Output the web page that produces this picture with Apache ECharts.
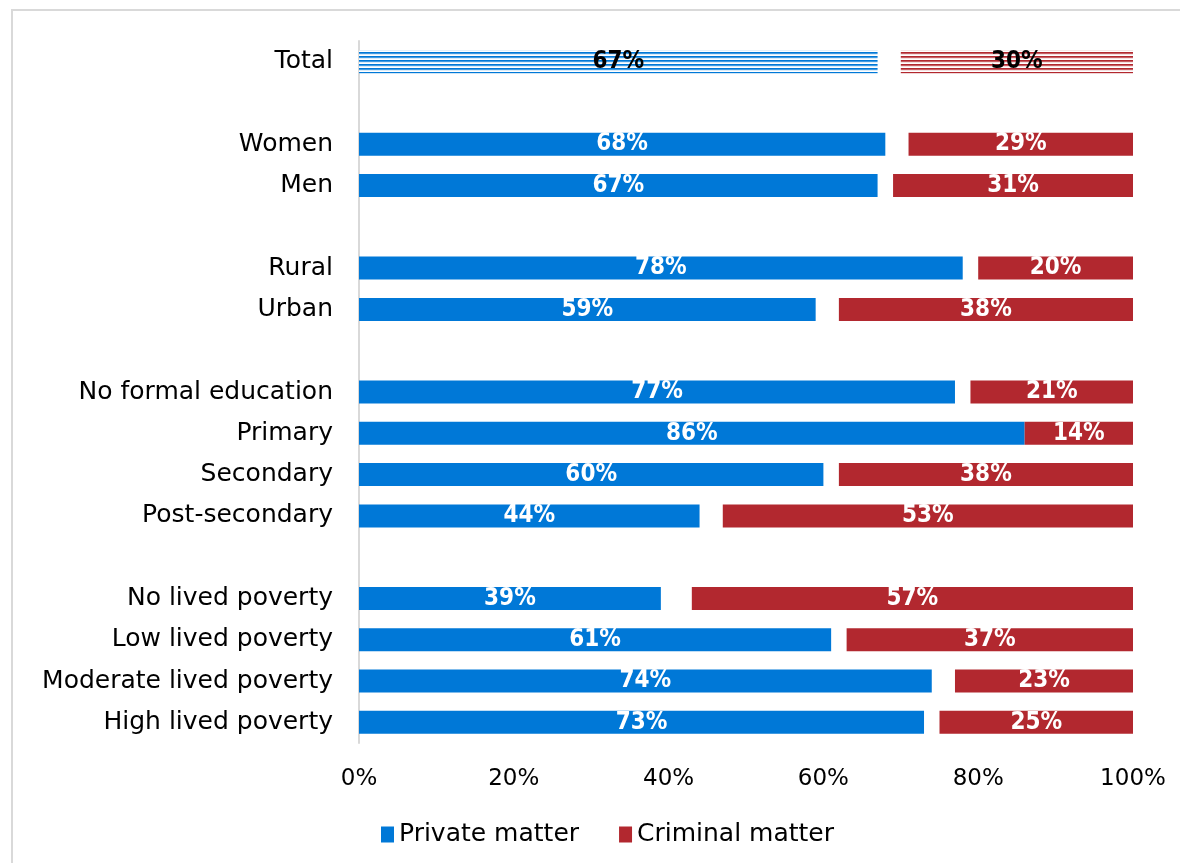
<!DOCTYPE html>
<html>
<head>
<meta charset="utf-8">
<script src="https://cdn.jsdelivr.net/npm/echarts@6/dist/echarts.min.js"></script>
<style>
  html, body { margin: 0; padding: 0; background: #fff; }
  #chart { width: 1180px; height: 863px; }
</style>
</head>
<body>
<div id="chart"></div>
<script>
// Rows top to bottom; whitespace-only entries are spacer rows between groups
const categories = [
  'Total', ' ',
  'Women', 'Men', '  ',
  'Rural', 'Urban', '   ',
  'No formal education', 'Primary', 'Secondary', 'Post-secondary', '    ',
  'No lived poverty', 'Low lived poverty', 'Moderate lived poverty', 'High lived poverty'
];
const privateMatter = [67, null, 68, 67, null, 78, 59, null, 77, 86, 60, 44, null, 39, 61, 74, 73];
const criminalMatter = [30, null, 29, 31, null, 20, 38, null, 21, 14, 38, 53, null, 57, 37, 23, 25];
const xTicks = [0, 20, 40, 60, 80, 100];

const BLUE = '#0078d7';
const RED = '#b2282f';
const FONT = "'DejaVu Sans', sans-serif";
const LABEL_FONT = "'DejaVu Sans Condensed', 'DejaVu Sans', sans-serif";

// Horizontal-stripe fill used for the overall (Total) row
function stripes(color) {
  const c = document.createElement('canvas');
  c.width = 8; c.height = 4;
  const g = c.getContext('2d');
  g.fillStyle = '#ffffff';
  g.fillRect(0, 0, 8, 4);
  g.fillStyle = color;
  g.fillRect(0, 0, 8, 1);
  g.globalAlpha = 0.75;
  g.fillRect(0, 1, 8, 1);
  g.globalAlpha = 0.15;
  g.fillRect(0, 2, 8, 1);
  return { image: c, repeat: 'repeat' };
}

// Share neither private nor criminal: an invisible spacer between the two bars
const remainder = privateMatter.map((p, i) =>
  p == null ? null : Math.max(0, 100 - p - criminalMatter[i]));

function styled(values, color) {
  return values.map((v, i) => {
    if (v == null) return null;
    if (categories[i] === 'Total') {
      return {
        value: v,
        itemStyle: { color: stripes(color) },
        label: { color: '#000' }
      };
    }
    return v;
  });
}

const valueLabel = {
  show: true,
  position: 'inside',
  formatter: '{c}%',
  color: '#fff',
  fontFamily: LABEL_FONT,
  fontWeight: 'bold',
  fontSize: 24
};

const chart = echarts.init(document.getElementById('chart'), null, { renderer: 'canvas' });
chart.setOption({
  animation: false,
  backgroundColor: '#fff',
  graphic: [{
    type: 'rect',
    shape: { x: 12, y: 10, width: 1200, height: 900 },
    style: { fill: 'none', stroke: '#d9d9d9', lineWidth: 2 },
    silent: true
  }],
  grid: { left: 359, right: 47, top: 41, bottom: 120, containLabel: false },
  legend: {
    left: 376,
    top: 817,
    itemWidth: 13,
    itemHeight: 16,
    itemGap: 40,
    icon: 'rect',
    textStyle: { fontFamily: FONT, fontSize: 25, color: '#000' },
    data: ['Private matter', 'Criminal matter']
  },
  xAxis: {
    type: 'value',
    min: xTicks[0],
    max: xTicks[xTicks.length - 1],
    interval: 20,
    axisLine: { show: false },
    axisTick: { show: false },
    splitLine: { show: false },
    axisLabel: {
      formatter: '{value}%',
      fontFamily: FONT,
      fontSize: 23,
      color: '#000',
      margin: 25
    }
  },
  yAxis: {
    type: 'category',
    inverse: true,
    data: categories,
    axisLine: { show: true, lineStyle: { color: '#d9d9d9', width: 2 } },
    axisTick: { show: false },
    axisLabel: { fontFamily: FONT, fontSize: 25, color: '#000', margin: 26 }
  },
  series: [
    {
      name: 'Private matter',
      type: 'bar',
      stack: 'share',
      barWidth: 23,
      itemStyle: { color: BLUE },
      label: valueLabel,
      data: styled(privateMatter, BLUE)
    },
    {
      name: 'Remainder',
      type: 'bar',
      stack: 'share',
      barWidth: 23,
      itemStyle: { color: 'rgba(0,0,0,0)' },
      label: { show: false },
      silent: true,
      data: remainder
    },
    {
      name: 'Criminal matter',
      type: 'bar',
      stack: 'share',
      barWidth: 23,
      itemStyle: { color: RED },
      label: valueLabel,
      data: styled(criminalMatter, RED)
    }
  ]
});
</script>
</body>
</html>
